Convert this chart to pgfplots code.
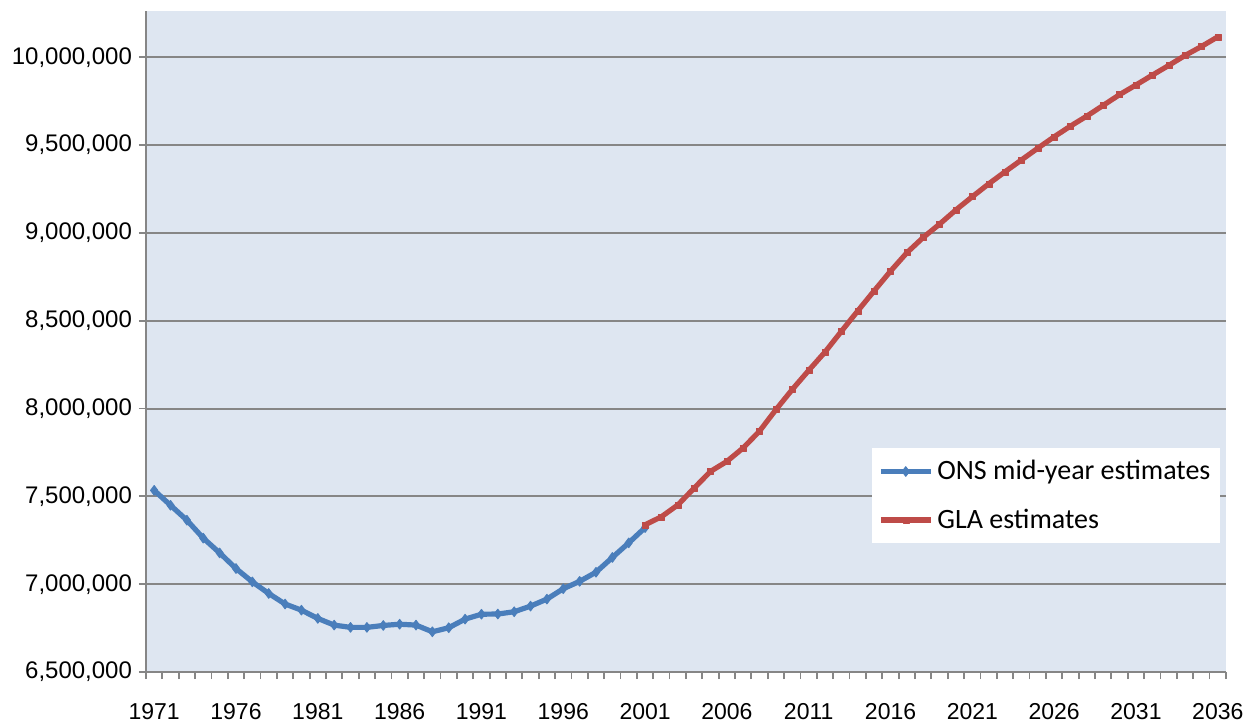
\documentclass[border=0pt]{standalone}
\usepackage{pgfplots}
\pgfplotsset{compat=1.18}
\usepackage{fontspec}
\setmainfont{Liberation Sans}
\newfontfamily\legfont{Carlito}
\definecolor{bgblue}{RGB}{222,230,241}
\definecolor{onsblue}{RGB}{74,126,187}
\definecolor{glared}{RGB}{190,75,72}
\definecolor{gridgray}{RGB}{134,134,134}
\begin{document}
\begin{tikzpicture}
\useasboundingbox (0,0) rectangle (630pt,362pt);
\begin{axis}[
  at={(73pt,26pt)}, anchor=south west, scale only axis,
  width=540pt, height=330.5pt,
  xmin=1970.5, xmax=2036.5,
  ymin=6500000, ymax=10263000,
  axis background/.style={fill=bgblue},
  axis x line*=bottom, axis y line*=left,
  axis line style={draw=gridgray, line width=1pt},
  tick align=outside,
  xtick={1971,1976,...,2036},
  major x tick style={draw=none},
  minor xtick={1970.5,1971.5,...,2036.5},
  minor x tick style={draw=gridgray, line width=0.9pt},
  minor tick length=3.5pt,
  ytick={6500000,7000000,...,10000000},
  major y tick style={draw=gridgray, line width=0.9pt},
  major tick length=3.5pt,
  ymajorgrids,
  grid style={draw=gridgray, line width=1pt},
  scaled y ticks=false,
  yticklabel style={font=\fontsize{12}{14}\selectfont,
    /pgf/number format/fixed, /pgf/number format/precision=0,
    /pgf/number format/1000 sep={,}, /pgf/number format/assume math mode=true},
  xticklabel style={font=\fontsize{11.5}{14}\selectfont, yshift=-8.5pt,
    /pgf/number format/1000 sep={}, /pgf/number format/assume math mode=true},
  legend style={at={(0.672,0.339)}, anchor=north west, fill=white, draw=none,
    font=\legfont\fontsize{14}{16.5}\selectfont,
    inner xsep=3pt, inner ysep=4pt, row sep=9pt,
    /tikz/every even column/.append style={column sep=2pt}},
  legend cell align=left,
  legend image code/.code={\draw[mark repeat=2,mark phase=2] plot coordinates {(0pt,0pt) (12.5pt,0pt) (25pt,0pt)};},
]
\addplot[color=onsblue, line width=2.6pt, line join=round, mark=diamond*, mark size=2.4pt,
  mark options={solid, line width=0.5pt, fill=onsblue}] coordinates {
(1971,7534000) (1972,7449000) (1973,7364000) (1974,7262000) (1975,7178000)
(1976,7089000) (1977,7013000) (1978,6947000) (1979,6887000) (1980,6852000)
(1981,6805000) (1982,6767000) (1983,6754000) (1984,6754000) (1985,6765000)
(1986,6772000) (1987,6767000) (1988,6729000) (1989,6752000) (1990,6801000)
(1991,6829000) (1992,6830000) (1993,6843000) (1994,6875000) (1995,6915000)
(1996,6974000) (1997,7016000) (1998,7068000) (1999,7152000) (2000,7235000)
(2001,7322000)
};
\addlegendentry{ONS mid-year estimates}
\addplot[color=glared, line width=2.6pt, line join=round, mark=square*, mark size=1.5pt,
  mark options={solid, line width=0.2pt, fill=glared}] coordinates {
(2001,7338000) (2002,7384000) (2003,7451000) (2004,7547000) (2005,7642000)
(2006,7699000) (2007,7776000) (2008,7872000) (2009,7994000) (2010,8109000)
(2011,8217000) (2012,8322000) (2013,8440000) (2014,8556000) (2015,8670000)
(2016,8782000) (2017,8887000) (2018,8974000) (2019,9050000) (2020,9131000)
(2021,9206000) (2022,9279000) (2023,9348000) (2024,9415000) (2025,9482000)
(2026,9547000) (2027,9608000) (2028,9665000) (2029,9726000) (2030,9787000)
(2031,9842000) (2032,9898000) (2033,9953000) (2034,10010000) (2035,10061000)
(2036,10116000)
};
\addlegendentry{GLA estimates}
\end{axis}
\end{tikzpicture}
\end{document}
